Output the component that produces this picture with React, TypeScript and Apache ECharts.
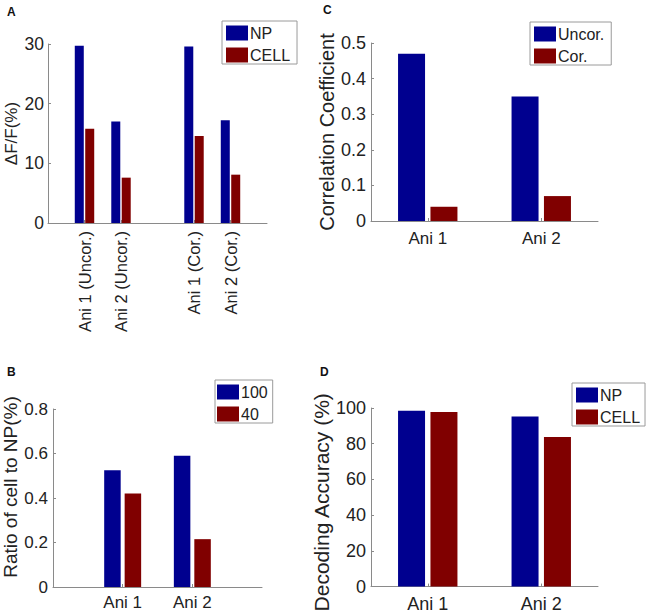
import React, { useEffect, useRef } from "react";
import * as echarts from "echarts";

// Panel A: ΔF/F (%) — slots 0..6, bars at slots 1,2,4,5
const aCategories = ["", "Ani 1 (Uncor.)", "Ani 2 (Uncor.)", "", "Ani 1 (Cor.)", "Ani 2 (Cor.)", ""];
const aNP = [null, 29.7, 17.0, null, 29.6, 17.2, null];
const aCELL = [null, 15.8, 7.6, null, 14.6, 8.1, null];

// Panel B: Ratio of cell to NP — slots 0..3, bars at slots 1,2
const bCategories = ["", "Ani 1", "Ani 2", ""];
const b100 = [null, 0.525, 0.59, null];
const b40 = [null, 0.42, 0.215, null];

// Panel C: Correlation coefficient
const cCategories = ["Ani 1", "Ani 2"];
const cUncor = [0.47, 0.35];
const cCor = [0.04, 0.07];

// Panel D: Decoding accuracy (%)
const dCategories = ["Ani 1", "Ani 2"];
const dNP = [98.4, 95.3];
const dCELL = [97.8, 83.8];

const BLUE = "#00008F";
const RED = "#800000";
const AXIS = "#8a8a8a";
const TXT = "#222";
const FONT = "'Liberation Sans', Arial, Helvetica, sans-serif";

export default function App() {
  const ref = useRef<HTMLDivElement>(null);
  useEffect(() => {
    if (!ref.current) return;
    const chart = echarts.init(ref.current, undefined, { renderer: "svg" });

    const axisLine = { show: true, lineStyle: { color: AXIS, width: 1 } };
    const tick = { show: true, inside: true, length: 3, lineStyle: { color: AXIS } };
    const label = (size: number, margin: number) => ({
      color: TXT,
      fontSize: size,
      fontFamily: FONT,
      margin,
    });
    const legendBase = (left: number, top: number, data: string[], padding: number[]) => ({
      orient: "vertical",
      left,
      top,
      data,
      icon: "rect",
      itemWidth: 22,
      itemHeight: 15,
      itemGap: 6,
      padding,
      borderColor: "#9a9a9a",
      borderWidth: 1,
      backgroundColor: "#fff",
      selectedMode: false,
      textStyle: { color: TXT, fontSize: 16, fontFamily: FONT, padding: [0, 0, 0, -3], lineHeight: 15 },
    });
    const yName = (name: string, size: number, gap: number, pad: number[]) => ({
      name,
      nameLocation: "middle",
      nameGap: gap,
      nameTextStyle: { color: TXT, fontSize: size, fontFamily: FONT, padding: pad },
    });

    const option: any = {
      animation: false,
      backgroundColor: "#fff",
      grid: [
        { left: 48, top: 44, width: 219, height: 179 },
        { left: 371, top: 43, width: 227, height: 178 },
        { left: 48, top: 409, width: 214, height: 178 },
        { left: 371, top: 408, width: 227, height: 179 },
      ],
      xAxis: [
        {
          gridIndex: 0,
          type: "category",
          data: aCategories,
          boundaryGap: false,
          axisLine,
          axisTick: { ...tick, interval: (i: number) => aCategories[i] !== "" },
          axisLabel: { ...label(16.5, 8), rotate: 90, interval: 0 },
        },
        {
          gridIndex: 1,
          type: "category",
          data: cCategories,
          axisLine,
          axisTick: { ...tick, alignWithLabel: true },
          axisLabel: label(17, 9),
        },
        {
          gridIndex: 2,
          type: "category",
          data: bCategories,
          boundaryGap: false,
          axisLine,
          axisTick: { ...tick, interval: (i: number) => bCategories[i] !== "" },
          axisLabel: { ...label(17, 7), interval: 0 },
        },
        {
          gridIndex: 3,
          type: "category",
          data: dCategories,
          axisLine,
          axisTick: { ...tick, alignWithLabel: true },
          axisLabel: label(18, 8),
        },
      ],
      yAxis: [
        {
          gridIndex: 0,
          type: "value",
          min: 0,
          max: 30,
          interval: 10,
          axisLine,
          axisTick: tick,
          splitLine: { show: false },
          axisLabel: label(17.5, 4),
          ...yName("ΔF/F(%)", 17, 28, [0, 0, 0, 0]),
        },
        {
          gridIndex: 1,
          type: "value",
          min: 0,
          max: 0.5,
          interval: 0.1,
          axisLine,
          axisTick: tick,
          splitLine: { show: false },
          axisLabel: label(18, 5),
          ...yName("Correlation Coefficient", 20, 34, [0, 0, 0, 0]),
        },
        {
          gridIndex: 2,
          type: "value",
          min: 0,
          max: 0.8,
          interval: 0.2,
          axisLine,
          axisTick: tick,
          splitLine: { show: false },
          axisLabel: label(17, 5),
          ...yName("Ratio of cell to NP(%)", 19, 33, [0, 0, 0, 22]),
        },
        {
          gridIndex: 3,
          type: "value",
          min: 0,
          max: 100,
          interval: 20,
          axisLine,
          axisTick: tick,
          splitLine: { show: false },
          axisLabel: label(18, 5),
          ...yName("Decoding Accuracy (%)", 21, 37, [0, 10, 0, 0]),
        },
      ],
      legend: [
        legendBase(222, 21, ["NP", "CELL"], [4, 7, 1, 4]),
        legendBase(530, 22, ["Uncor.", "Cor."], [4, 7, 1, 4]),
        legendBase(215, 380, ["100", "40"], [4, 5, 1, 2]),
        legendBase(572, 383, ["NP", "CELL"], [4, 5, 1, 4]),
      ],
      series: [
        { type: "bar", name: "NP", xAxisIndex: 0, yAxisIndex: 0, data: aNP, itemStyle: { color: BLUE }, barWidth: 9, barGap: "16%" },
        { type: "bar", name: "CELL", xAxisIndex: 0, yAxisIndex: 0, data: aCELL, itemStyle: { color: RED }, barWidth: 9, barGap: "16%" },
        { type: "bar", name: "Uncor.", xAxisIndex: 1, yAxisIndex: 1, data: cUncor, itemStyle: { color: BLUE }, barWidth: 27, barGap: "20%" },
        { type: "bar", name: "Cor.", xAxisIndex: 1, yAxisIndex: 1, data: cCor, itemStyle: { color: RED }, barWidth: 27, barGap: "20%" },
        { type: "bar", name: "100", xAxisIndex: 2, yAxisIndex: 2, data: b100, itemStyle: { color: BLUE }, barWidth: 16.5, barGap: "24%" },
        { type: "bar", name: "40", xAxisIndex: 2, yAxisIndex: 2, data: b40, itemStyle: { color: RED }, barWidth: 16.5, barGap: "24%" },
        { type: "bar", name: "NP", xAxisIndex: 3, yAxisIndex: 3, data: dNP, itemStyle: { color: BLUE }, barWidth: 27, barGap: "20%" },
        { type: "bar", name: "CELL", xAxisIndex: 3, yAxisIndex: 3, data: dCELL, itemStyle: { color: RED }, barWidth: 27, barGap: "20%" },
      ],
      graphic: [
        { type: "text", left: 7, top: 6, style: { text: "A", font: `bold 12px ${FONT}`, fill: "#111" } },
        { type: "text", left: 323, top: 4, style: { text: "C", font: `bold 12px ${FONT}`, fill: "#111" } },
        { type: "text", left: 7, top: 366, style: { text: "B", font: `bold 12px ${FONT}`, fill: "#111" } },
        { type: "text", left: 320, top: 366, style: { text: "D", font: `bold 12px ${FONT}`, fill: "#111" } },
      ],
    };
    chart.setOption(option);
    return () => chart.dispose();
  }, []);
  return (
    <div
      ref={ref}
      style={{ position: "absolute", left: 0, top: 0, width: 649, height: 614, background: "#fff" }}
    />
  );
}
